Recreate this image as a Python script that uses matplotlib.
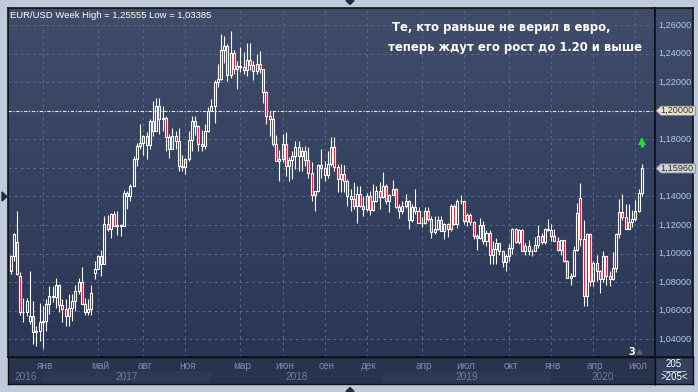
import numpy as np
import matplotlib
matplotlib.use("Agg")
import matplotlib.pyplot as plt
from matplotlib.colors import LinearSegmentedColormap
from matplotlib.patches import Polygon, Rectangle
import matplotlib.transforms as mtransforms

# ---------------- data (weekly EUR/USD, first bar = week of 24 Oct 2016) ----------------
opens = [1.0880, 1.0985, 1.1080, 1.0840, 1.0590, 1.0590, 1.0530, 1.0560, 1.0450, 1.0455,
         1.0520, 1.0530, 1.0645, 1.0700, 1.0695, 1.0780, 1.0640, 1.0615, 1.0560, 1.0620,
         1.0670, 1.0740, 1.0800, 1.0650, 1.0590, 1.0615, 1.0865, 1.0895, 1.0985, 1.0930,
         1.1205, 1.1175, 1.1280, 1.1195, 1.1200, 1.1195, 1.1425, 1.1400, 1.1470, 1.1665,
         1.1750, 1.1775, 1.1820, 1.1760, 1.1925, 1.1860, 1.2035, 1.1945, 1.1950, 1.1815,
         1.1730, 1.1820, 1.1785, 1.1610, 1.1605, 1.1665, 1.1795, 1.1930, 1.1895, 1.1770,
         1.1750, 1.1860, 1.2000, 1.2030, 1.2200, 1.2225, 1.2425, 1.2455, 1.2250, 1.2405,
         1.2295, 1.2315, 1.2305, 1.2285, 1.2355, 1.2320, 1.2280, 1.2330, 1.2290, 1.2130,
         1.1960, 1.1940, 1.1770, 1.1650, 1.1660, 1.1770, 1.1610, 1.1655, 1.1685, 1.1745,
         1.1685, 1.1720, 1.1655, 1.1565, 1.1410, 1.1440, 1.1620, 1.1600, 1.1550, 1.1625,
         1.1745, 1.1605, 1.1525, 1.1560, 1.1510, 1.1400, 1.1385, 1.1335, 1.1415, 1.1335,
         1.1315, 1.1405, 1.1305, 1.1370, 1.1440, 1.1395, 1.1470, 1.1365, 1.1410, 1.1455,
         1.1325, 1.1295, 1.1335, 1.1365, 1.1235, 1.1325, 1.1300, 1.1215, 1.1215, 1.1300,
         1.1245, 1.1150, 1.1170, 1.1235, 1.1160, 1.1205, 1.1170, 1.1335, 1.1210, 1.1370,
         1.1370, 1.1225, 1.1270, 1.1220, 1.1125, 1.1110, 1.1200, 1.1090, 1.1145, 1.0990,
         1.1030, 1.1075, 1.1015, 1.0940, 1.0980, 1.1040, 1.1170, 1.1080, 1.1165, 1.1020,
         1.1050, 1.1020, 1.1015, 1.1060, 1.1120, 1.1080, 1.1175, 1.1165, 1.1120, 1.1090,
         1.1025, 1.1095, 1.0945, 1.0830, 1.0845, 1.1025, 1.1390, 1.1105, 1.0700, 1.1140,
         1.0805, 1.0935, 1.0875, 1.0820, 1.0980, 1.0840, 1.0820, 1.0900, 1.1135, 1.1290,
         1.1255, 1.1175, 1.1220, 1.1245, 1.1300, 1.1425]
highs = [1.0990, 1.1145, 1.1300, 1.0870, 1.0690, 1.0690, 1.0875, 1.0670, 1.0490, 1.0655,
         1.0630, 1.0685, 1.0775, 1.0775, 1.0830, 1.0790, 1.0680, 1.0680, 1.0715, 1.0715,
         1.0780, 1.0830, 1.0905, 1.0690, 1.0680, 1.0780, 1.0950, 1.0990, 1.1025, 1.1265,
         1.1270, 1.1285, 1.1295, 1.1295, 1.1210, 1.1445, 1.1440, 1.1490, 1.1680, 1.1775,
         1.1910, 1.1830, 1.1850, 1.1940, 1.2070, 1.2090, 1.2090, 1.2035, 1.1960, 1.1835,
         1.1880, 1.1860, 1.1880, 1.1690, 1.1670, 1.1860, 1.1960, 1.1960, 1.1900, 1.1865,
         1.1905, 1.2025, 1.2085, 1.2215, 1.2325, 1.2535, 1.2520, 1.2470, 1.2555, 1.2425,
         1.2350, 1.2445, 1.2410, 1.2475, 1.2475, 1.2345, 1.2395, 1.2415, 1.2290, 1.2140,
         1.1995, 1.1995, 1.1830, 1.1725, 1.1840, 1.1850, 1.1675, 1.1720, 1.1790, 1.1790,
         1.1745, 1.1750, 1.1745, 1.1640, 1.1435, 1.1625, 1.1735, 1.1650, 1.1720, 1.1815,
         1.1815, 1.1625, 1.1625, 1.1620, 1.1520, 1.1455, 1.1500, 1.1470, 1.1470, 1.1400,
         1.1425, 1.1440, 1.1485, 1.1475, 1.1500, 1.1570, 1.1485, 1.1415, 1.1515, 1.1460,
         1.1345, 1.1370, 1.1420, 1.1375, 1.1345, 1.1450, 1.1325, 1.1255, 1.1325, 1.1325,
         1.1265, 1.1265, 1.1265, 1.1265, 1.1215, 1.1215, 1.1350, 1.1350, 1.1385, 1.1410,
         1.1370, 1.1285, 1.1285, 1.1230, 1.1140, 1.1250, 1.1230, 1.1165, 1.1165, 1.1085,
         1.1110, 1.1075, 1.1025, 1.1000, 1.1065, 1.1180, 1.1180, 1.1175, 1.1175, 1.1075,
         1.1095, 1.1030, 1.1115, 1.1200, 1.1145, 1.1180, 1.1240, 1.1205, 1.1170, 1.1115,
         1.1095, 1.1095, 1.0955, 1.0865, 1.1055, 1.1355, 1.1495, 1.1235, 1.1145, 1.1145,
         1.0950, 1.0990, 1.0885, 1.1020, 1.0985, 1.0875, 1.1010, 1.1145, 1.1385, 1.1420,
         1.1350, 1.1350, 1.1305, 1.1375, 1.1450, 1.1625]
lows = [1.0860, 1.0945, 1.0850, 1.0570, 1.0520, 1.0560, 1.0505, 1.0365, 1.0350, 1.0390,
        1.0340, 1.0455, 1.0580, 1.0660, 1.0620, 1.0590, 1.0520, 1.0495, 1.0495, 1.0525,
        1.0600, 1.0720, 1.0650, 1.0570, 1.0570, 1.0570, 1.0820, 1.0890, 1.0840, 1.0925,
        1.1160, 1.1110, 1.1195, 1.1130, 1.1120, 1.1190, 1.1310, 1.1370, 1.1470, 1.1615,
        1.1730, 1.1690, 1.1660, 1.1730, 1.1820, 1.1860, 1.1835, 1.1860, 1.1715, 1.1670,
        1.1730, 1.1730, 1.1575, 1.1575, 1.1555, 1.1650, 1.1720, 1.1830, 1.1715, 1.1715,
        1.1735, 1.1850, 1.1995, 1.1915, 1.2165, 1.2215, 1.2335, 1.2205, 1.2230, 1.2260,
        1.2155, 1.2270, 1.2260, 1.2240, 1.2285, 1.2215, 1.2255, 1.2265, 1.2055, 1.1910,
        1.1820, 1.1750, 1.1645, 1.1510, 1.1640, 1.1540, 1.1505, 1.1525, 1.1590, 1.1575,
        1.1575, 1.1615, 1.1530, 1.1365, 1.1300, 1.1430, 1.1530, 1.1510, 1.1530, 1.1615,
        1.1575, 1.1430, 1.1430, 1.1430, 1.1335, 1.1300, 1.1315, 1.1215, 1.1325, 1.1265,
        1.1300, 1.1270, 1.1300, 1.1360, 1.1310, 1.1390, 1.1350, 1.1290, 1.1410, 1.1320,
        1.1250, 1.1275, 1.1320, 1.1175, 1.1220, 1.1275, 1.1215, 1.1185, 1.1205, 1.1230,
        1.1110, 1.1135, 1.1165, 1.1155, 1.1105, 1.1115, 1.1160, 1.1200, 1.1180, 1.1350,
        1.1210, 1.1195, 1.1200, 1.1100, 1.1025, 1.1100, 1.1065, 1.1050, 1.0925, 1.0925,
        1.0925, 1.0990, 1.0905, 1.0880, 1.0945, 1.1000, 1.1075, 1.1070, 1.1015, 1.0990,
        1.0990, 1.0980, 1.1015, 1.1040, 1.1065, 1.1065, 1.1160, 1.1085, 1.1085, 1.1020,
        1.0990, 1.0940, 1.0830, 1.0780, 1.0840, 1.1015, 1.1050, 1.0635, 1.0635, 1.0770,
        1.0770, 1.0810, 1.0725, 1.0800, 1.0780, 1.0775, 1.0815, 1.0870, 1.1110, 1.1235,
        1.1170, 1.1170, 1.1185, 1.1230, 1.1290, 1.1400]
closes = [1.0985, 1.1140, 1.0855, 1.0590, 1.0590, 1.0665, 1.0560, 1.0450, 1.0455, 1.0520,
          1.0530, 1.0645, 1.0700, 1.0695, 1.0780, 1.0640, 1.0615, 1.0560, 1.0620, 1.0670,
          1.0740, 1.0800, 1.0650, 1.0590, 1.0615, 1.0725, 1.0895, 1.0985, 1.0930, 1.1205,
          1.1175, 1.1280, 1.1195, 1.1200, 1.1195, 1.1425, 1.1400, 1.1470, 1.1665, 1.1750,
          1.1775, 1.1820, 1.1760, 1.1925, 1.1860, 1.2035, 1.1945, 1.1950, 1.1815, 1.1730,
          1.1820, 1.1785, 1.1610, 1.1605, 1.1665, 1.1795, 1.1930, 1.1895, 1.1770, 1.1750,
          1.1860, 1.2000, 1.2030, 1.2200, 1.2225, 1.2425, 1.2455, 1.2250, 1.2405, 1.2295,
          1.2315, 1.2305, 1.2285, 1.2355, 1.2320, 1.2280, 1.2330, 1.2290, 1.2130, 1.1960,
          1.1940, 1.1770, 1.1650, 1.1660, 1.1770, 1.1610, 1.1655, 1.1685, 1.1745, 1.1685,
          1.1720, 1.1655, 1.1565, 1.1410, 1.1440, 1.1620, 1.1600, 1.1550, 1.1625, 1.1745,
          1.1605, 1.1525, 1.1560, 1.1510, 1.1400, 1.1385, 1.1335, 1.1415, 1.1335, 1.1315,
          1.1405, 1.1305, 1.1370, 1.1440, 1.1395, 1.1470, 1.1365, 1.1410, 1.1455, 1.1325,
          1.1295, 1.1335, 1.1365, 1.1235, 1.1325, 1.1300, 1.1215, 1.1215, 1.1300, 1.1245,
          1.1150, 1.1170, 1.1235, 1.1160, 1.1205, 1.1170, 1.1335, 1.1210, 1.1370, 1.1370,
          1.1225, 1.1270, 1.1220, 1.1125, 1.1110, 1.1200, 1.1090, 1.1145, 1.0990, 1.1030,
          1.1075, 1.1015, 1.0940, 1.0980, 1.1040, 1.1170, 1.1080, 1.1165, 1.1020, 1.1050,
          1.1020, 1.1015, 1.1060, 1.1120, 1.1080, 1.1175, 1.1165, 1.1120, 1.1090, 1.1025,
          1.1095, 1.0945, 1.0830, 1.0845, 1.1025, 1.1285, 1.1105, 1.0700, 1.1140, 1.0805,
          1.0935, 1.0875, 1.0820, 1.0980, 1.0840, 1.0820, 1.0900, 1.1135, 1.1290, 1.1255,
          1.1175, 1.1220, 1.1245, 1.1300, 1.1425, 1.1596]

# week index of the first bar of each labelled month
month_idx = [10, 27, 41, 54, 71, 84, 97, 110, 127, 140, 154, 167, 180, 193]
month_labels = ["янв", "май", "авг", "ноя", "мар", "июн", "сен", "дек",
                "апр", "июл", "окт", "янв", "апр", "июл"]
year_start_idx = [10, 62, 115, 167]          # first bar of 2017, 2018, 2019, 2020
year_labels = ["2016", "2017", "2018", "2019", "2020"]
price_ticks = [1.04, 1.06, 1.08, 1.10, 1.12, 1.14, 1.16, 1.18, 1.20, 1.22, 1.24, 1.26]
level_price = 1.20
last_price = 1.1596
signal_price = 1.1776
title_text = "EUR/USD Week High = 1,25555 Low = 1,03385"
note_lines = ["Те, кто раньше не верил в евро,", "теперь ждут его рост до 1.20 и выше"]
bar_count_text = "205"

# ---------------- layout ----------------
W, H = 698, 392
fig = plt.figure(figsize=(W / 100, H / 100), dpi=100, facecolor="#BFCADA")

def fx(px):
    return px / W

def fy(py):  # py measured from the top
    return 1 - py / H

n = len(closes)
xi = np.arange(n)
o = np.array(opens); h = np.array(highs); l = np.array(lows); c = np.array(closes)

XMIN, XMAX = -0.78, 199.04
YMIN, YMAX = 1.0276, 1.2719

plot_l, plot_r, plot_t, plot_b = 8, 655, 8, 357
ax = fig.add_axes([fx(plot_l), fy(plot_b), fx(plot_r - plot_l), (plot_b - plot_t) / H])
ax.set_xlim(XMIN, XMAX)
ax.set_ylim(YMIN, YMAX)

grad_cmap = LinearSegmentedColormap.from_list("bg", ["#2A3655", "#3F4C6A"])
grad = np.linspace(0, 1, 256).reshape(-1, 1)
ax.imshow(grad, extent=[XMIN, XMAX, YMIN, YMAX], origin="lower", aspect="auto",
          cmap=grad_cmap, zorder=-2, interpolation="bilinear")
ax.set_xlim(XMIN, XMAX)
ax.set_ylim(YMIN, YMAX)

grid_kw = dict(color="#5A6886", lw=0.75, ls=(0, (2.5, 3.5)), zorder=0.5)
for p in price_ticks:
    ax.axhline(p, **grid_kw)
for m in month_idx:
    ax.axvline(m, **grid_kw)

ax.axhline(level_price, color="#E8E8E8", lw=0.8, ls=(0, (3, 1.5, 1, 1.5)), zorder=1)

# candles
body_lo = np.minimum(o, c)
body_hi = np.maximum(o, c)
up = c >= o
ax.vlines(xi, body_hi, h, color="white", lw=0.8, zorder=2)
ax.vlines(xi, l, body_lo, color="white", lw=0.8, zorder=2)
bw = 0.62
ax.bar(xi[up], (body_hi - body_lo)[up], bottom=body_lo[up], width=bw,
       facecolor="none", edgecolor="white", lw=0.8, zorder=3)
ax.bar(xi[~up], (body_hi - body_lo)[~up], bottom=body_lo[~up], width=bw,
       facecolor="#E0102E", edgecolor="white", lw=0.8, zorder=3)

# green signal arrow above the last bar (stem + head)
arrow_green = "#1EE61E"
ax.vlines(xi[-1], signal_price - 0.0032, signal_price + 0.0004, color=arrow_green,
          lw=2.3, zorder=5)
ax.plot([xi[-1]], [signal_price + 0.0015], marker="^", ms=5.6, color=arrow_green,
        markeredgewidth=0, zorder=6)

ax.set_xticks([]); ax.set_yticks([])
for s in ax.spines.values():
    s.set_color("#101010"); s.set_linewidth(1.2)

# texts in the plot
fig.text(fx(10), fy(15), title_text, color="white", fontsize=6.8,
         family="Liberation Sans", va="center", ha="left")
fig.text(fx(392), fy(27), note_lines[0], color="white", fontsize=8.35,
         family="DejaVu Sans", weight="bold", va="center", ha="left")
fig.text(fx(388), fy(47), note_lines[1], color="white", fontsize=8.35,
         family="DejaVu Sans", weight="bold", va="center", ha="left")
fig.text(fx(632), fy(352), "3", color="white", fontsize=7, family="DejaVu Sans",
         weight="bold", va="center", ha="center")
fig.patches.append(Polygon([[fx(637), fy(354)], [fx(642), fy(354)], [fx(639.5), fy(350)]],
                           closed=True, transform=fig.transFigure, color="#5A6070", zorder=10))

# ---------------- right price panel ----------------
rax = fig.add_axes([fx(plot_r), fy(plot_b), fx(693 - plot_r), (plot_b - plot_t) / H], sharey=ax)
rax.set_xlim(0, 1)
rax.imshow(grad, extent=[0, 1, YMIN, YMAX], origin="lower", aspect="auto",
           cmap=grad_cmap, zorder=-2)
rax.set_xlim(0, 1)
rax.set_ylim(YMIN, YMAX)
rax.tick_params(left=False, labelleft=False, bottom=False, labelbottom=False)
for s in rax.spines.values():
    s.set_color("#101010"); s.set_linewidth(1.2)

def fmt(v):
    return f"{v:.5f}".replace(".", ",")

tag_half = 0.0032
for p in price_ticks:
    if abs(p - level_price) < 2 * tag_half or abs(p - last_price) < 2 * tag_half:
        continue  # hidden behind a price tag
    rax.text(0.08, p, fmt(p), color="#B4C8EA", fontsize=6.6, family="Liberation Sans",
             va="center", ha="left")

def tag(price, face, edge):
    hh = tag_half
    pts = [[0.03, price], [0.15, price + hh], [1.06, price + hh], [1.06, price - hh], [0.15, price - hh]]
    rax.add_patch(Polygon(pts, closed=True, facecolor=face, edgecolor=edge, lw=0.6,
                          zorder=6, clip_on=False))
    rax.text(0.13, price, fmt(price), color="#303030", fontsize=6.6, family="Liberation Sans",
             va="center", ha="left", zorder=7, clip_on=False)

tag(level_price, "#E8E4CF", "#8E8C80")
tag(last_price, "#D2D4D8", "#8A8C90")

# ---------------- bottom date panel ----------------
bax = fig.add_axes([fx(plot_l), fy(384), fx(plot_r - plot_l), (384 - plot_b) / H], sharex=ax)
bax.set_facecolor("#28334E")
bax.set_ylim(0, 1)
bax.set_xlim(XMIN, XMAX)
bounds = [XMIN] + year_start_idx + [XMAX]
for k in range(len(year_labels)):
    a, b = bounds[k], bounds[k + 1]
    if k % 2 == 1:
        bax.add_patch(Rectangle((a, 0), b - a, 0.5, facecolor="#2D3853", edgecolor="none", zorder=0))
    bax.text((a + b) / 2, 0.27, year_labels[k], color="#6F7C98", fontsize=7.2,
             family="Liberation Sans", ha="center", va="center")
off = mtransforms.ScaledTranslation(2 / 100, 0, fig.dpi_scale_trans)
for m, lab in zip(month_idx, month_labels):
    bax.text(m, 0.66, lab, color="#7D8BA7", fontsize=7.2, family="Liberation Sans",
             ha="center", va="center", transform=bax.transData + off)
bax.tick_params(left=False, labelleft=False, bottom=False, labelbottom=False)
for s in bax.spines.values():
    s.set_color("#101010"); s.set_linewidth(1.0)

# bottom-right counter box
cax = fig.add_axes([fx(plot_r), fy(384), fx(693 - plot_r), (384 - plot_b) / H])
cax.set_facecolor("#34415E")
cax.set_xlim(0, 1); cax.set_ylim(0, 1)
cax.tick_params(left=False, labelleft=False, bottom=False, labelbottom=False)
for s in cax.spines.values():
    s.set_color("#101010"); s.set_linewidth(1.0)
cax.text(0.5, 0.74, bar_count_text, color="white", fontsize=7, family="Liberation Sans",
         ha="center", va="center")
cax.plot([0.22, 0.78], [0.5, 0.5], color="#C8D0E0", lw=0.6)
cax.text(0.5, 0.27, ">" + bar_count_text + "<", color="white", fontsize=7,
         family="Liberation Sans", ha="center", va="center")

# frame markers
fig.patches.append(Polygon([[fx(2), fy(192)], [fx(2), fy(201)], [fx(7), fy(196.5)]],
                           closed=True, transform=fig.transFigure, color="#1E2942", zorder=10))
fig.patches.append(Polygon([[fx(346), fy(0.5)], [fx(354), fy(0.5)], [fx(350), fy(4.5)]],
                           closed=True, transform=fig.transFigure, color="#1E2942", zorder=10))
fig.patches.append(Polygon([[fx(346), fy(391.5)], [fx(354), fy(391.5)], [fx(350), fy(387.5)]],
                           closed=True, transform=fig.transFigure, color="#1E2942", zorder=10))

fig.savefig("out.png", dpi=100, facecolor=fig.get_facecolor())
